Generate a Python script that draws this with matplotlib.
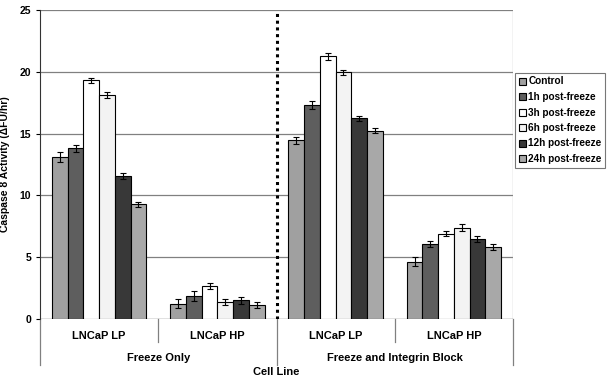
import numpy as np
import matplotlib.pyplot as plt

plt.rcParams['font.family'] = ['Liberation Sans', 'DejaVu Sans']
plt.rcParams['font.weight'] = 'bold'

groups = ['LNCaP LP', 'LNCaP HP', 'LNCaP LP', 'LNCaP HP']
treatments = ['Freeze Only', 'Freeze and Integrin Block']
series = ['Control', '1h post-freeze', '3h post-freeze', '6h post-freeze',
          '12h post-freeze', '24h post-freeze']

control = [13.1, 1.25, 14.45, 4.65]
h1 = [13.8, 1.85, 17.3, 6.1]
h3 = [19.3, 2.7, 21.25, 6.9]
h6 = [18.1, 1.4, 19.95, 7.4]
h12 = [11.6, 1.5, 16.25, 6.5]
h24 = [9.3, 1.15, 15.25, 5.8]

control_err = [0.4, 0.35, 0.3, 0.35]
h1_err = [0.25, 0.4, 0.35, 0.25]
h3_err = [0.2, 0.25, 0.3, 0.2]
h6_err = [0.25, 0.25, 0.2, 0.25]
h12_err = [0.25, 0.3, 0.2, 0.25]
h24_err = [0.2, 0.25, 0.2, 0.25]

values = [control, h1, h3, h6, h12, h24]
errors = [control_err, h1_err, h3_err, h6_err, h12_err, h24_err]
colors = ['#a0a0a0', '#5e5e5e', '#ffffff', '#f3f3f3', '#383838', '#a8a8a8']

fig = plt.figure(figsize=(6.09, 3.81), dpi=100)
ax = fig.add_axes([40 / 609, 62 / 381, 473 / 609, 309 / 381])

x = np.arange(len(groups))
w = 0.133
for i in range(6):
    pos = x + (i - 2.5) * w
    ax.bar(pos, values[i], w, color=colors[i], edgecolor='black', linewidth=0.8,
           label=series[i], zorder=2)
    ax.errorbar(pos, values[i], yerr=errors[i], fmt='none', ecolor='black',
                elinewidth=0.8, capsize=2, capthick=0.8, zorder=3)

ax.set_xlim(-0.5, 3.5)
ax.set_ylim(0, 25)
ax.set_yticks([0, 5, 10, 15, 20, 25])
ax.tick_params(axis='y', labelsize=7.5, length=3, width=0.8)
ax.set_xticks([])
ax.yaxis.grid(True, color='#808080', linewidth=0.9, zorder=0)
ax.set_axisbelow(True)
for s in ['top', 'right', 'bottom']:
    ax.spines[s].set_visible(False)
ax.spines['left'].set_color('#333333')
ax.axhline(0, color='#808080', linewidth=0.9, zorder=1)
ax.axvline(3.5, color='#a0a0a0', linewidth=0.9)

ax.axvline(1.5, color='black', linewidth=2.2, linestyle=(0, (1, 1.2)), zorder=4)

ax.set_ylabel('Caspase 8 Activity (ΔFU/hr)', fontsize=7.5, fontweight='bold')
ax.yaxis.set_label_coords(-0.063, 0.5)

# category axis
tr = ax.get_xaxis_transform()
for g in range(4):
    ax.text(x[g], -0.055, groups[g], transform=tr, ha='center', va='center', fontsize=8)
for t in range(2):
    ax.text(0.5 + 2 * t, -0.126, treatments[t], transform=tr, ha='center', va='center', fontsize=8)
for xv in [-0.5, 1.5, 3.5]:
    ax.plot([xv, xv], [0, -0.149], transform=tr, color='#808080', linewidth=0.9, clip_on=False)
for xv in [0.5, 2.5]:
    ax.plot([xv, xv], [0, -0.074], transform=tr, color='#808080', linewidth=0.9, clip_on=False)
ax.text(1.5, -0.172, 'Cell Line', transform=tr, ha='center', va='center', fontsize=8)

leg = fig.legend(loc='upper left', bbox_to_anchor=(515 / 609, 1 - 73 / 381), fontsize=7.2,
                 frameon=True, fancybox=False, edgecolor='#555555', handlelength=0.7,
                 handleheight=0.7, handletextpad=0.3, borderpad=0.35, labelspacing=0.55,
                 borderaxespad=0)
leg.get_frame().set_linewidth(0.8)

fig.savefig('out.png', dpi=100)
